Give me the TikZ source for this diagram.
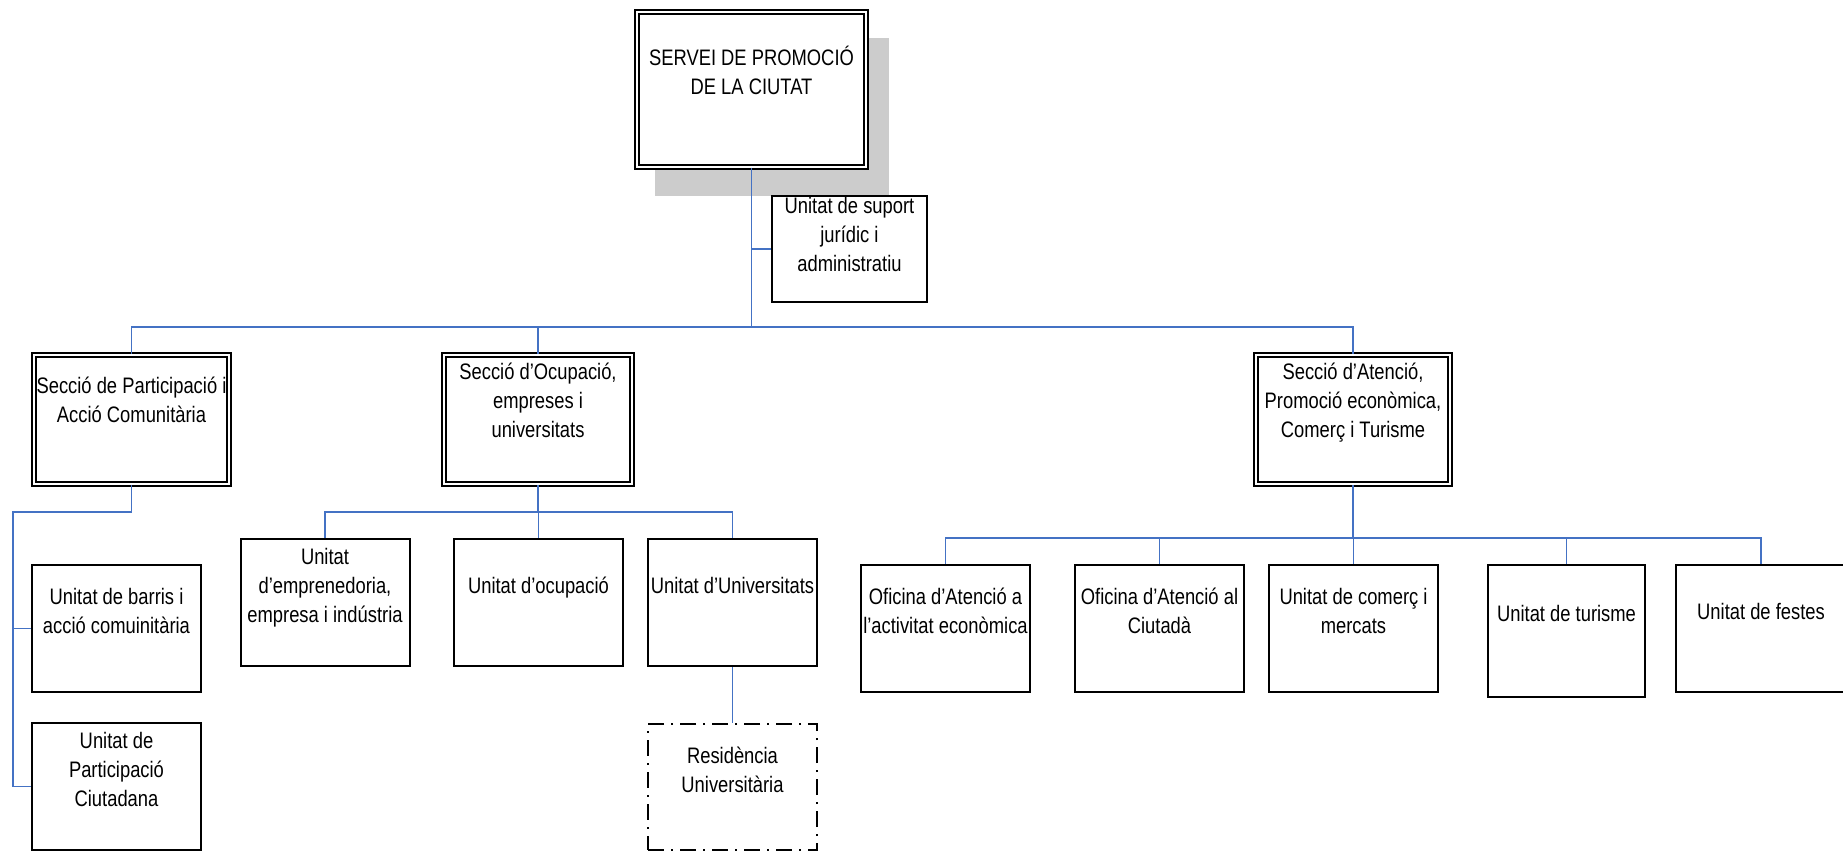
\documentclass[tikz,border=0pt]{standalone}
\usepackage{fontspec}
\setmainfont{Liberation Sans}[FakeStretch=0.82]
\usetikzlibrary{shadows}
\definecolor{linkblue}{HTML}{4472C4}

\begin{document}
\begin{tikzpicture}[x=0.5pt, y=-0.5pt,
    box/.style = {draw, line width=1pt, inner sep=0.5pt, align=center, font=\fontsize{11.2pt}{14.5pt}\selectfont},
    lift/.style = {execute at end node={\rule[-#1]{0pt}{#1}}},
    sec/.style = {box, double, line width=0.75pt, double distance=1.4pt, minimum height=64.5pt, lift=19.5pt},
    unit/.style = {box, minimum width=84.5pt, minimum height=63.5pt, lift=17.5pt},
    link/.style = {draw=linkblue, line width=0.9pt}]
    \useasboundingbox (0,0) rectangle (1843,851);

    \node[sec, fill=white, minimum width=114.5pt, minimum height=77.5pt, lift=18pt,
          drop shadow={shadow xshift=10pt, shadow yshift=-13.5pt, shadow scale=1.02, fill=black!20, opacity=1}]
          (servei) at (751.5,89.5) {SERVEI DE PROMOCIÓ\\DE LA CIUTAT};
    \node[box, minimum width=77.5pt, minimum height=53pt, lift=14.5pt] (suport) at (849.5,249) {Unitat de suport\\jurídic i\\administratiu};

    \node[sec, minimum width=97.5pt] (secp) at (131.5,419.5) {Secció de Participació i\\Acció Comunitària};
    \node[sec, minimum width=94pt] (seco) at (538,419.5) {Secció d’Ocupació,\\empreses i\\universitats};
    \node[sec, minimum width=97pt] (seca) at (1353,419.5) {Secció d’Atenció,\\Promoció econòmica,\\Comerç i Turisme};

    \node[unit] (barris) at (116.5,628.5) {Unitat de barris i\\acció comuinitària};
    \node[unit] (ciutadana) at (116.5,786.5) {Unitat de\\Participació\\Ciutadana};

    \node[unit] (empren) at (325,602.5) {Unitat\\d’emprenedoria,\\empresa i indústria};
    \node[unit] (ocup) at (538.5,602.5) {Unitat d’ocupació};
    \node[unit] (univ) at (732.5,602.5) {Unitat d’Universitats};
    \node[unit, minimum height=63pt, dash pattern=on 8pt off 3.5pt on 1pt off 3.5pt] (resid) at (732.5,787) {Residència\\Universitària};

    \node[unit] (ofact) at (945.5,628.5) {Oficina d’Atenció a\\l’activitat econòmica};
    \node[unit] (ofciu) at (1159.5,628.5) {Oficina d’Atenció al\\Ciutadà};
    \node[unit] (comerc) at (1353.5,628.5) {Unitat de comerç i\\mercats};
    \node[unit, minimum width=78.5pt, minimum height=66pt] (turisme) at (1566.5,631) {Unitat de turisme};
    \node[unit, minimum width=85pt] (festes) at (1761,628.5) {Unitat de festes};

    \coordinate (bus) at (751.5,327);
    \coordinate (lbus) at (13,512);
    \coordinate (obus) at (538,512);
    \coordinate (abus) at (1353,538);

    \draw[link] (servei) -- (bus);\draw[link] (servei |- suport) -- (suport);
    \draw[link] (bus) -| (secp.north);\draw[link] (bus) -| (seco.north);\draw[link] (bus) -| (seca.north);

    \draw[link] (secp) -- (secp |- lbus) -- (lbus) |- (barris);\draw[link] (lbus) |- (ciutadana);

    \draw[link] (seco) -- (obus);\draw[link] (obus) -| (empren);\draw[link] (obus) -| (ocup);\draw[link] (obus) -| (univ);
    \draw[link] (univ) -- (resid);

    \draw[link] (seca) -- (abus);\draw[link] (abus) -| (ofact);\draw[link] (abus) -| (ofciu);
    \draw[link] (abus) -| (comerc);\draw[link] (abus) -| (turisme);\draw[link] (abus) -| (festes);
\end{tikzpicture}
\end{document}
